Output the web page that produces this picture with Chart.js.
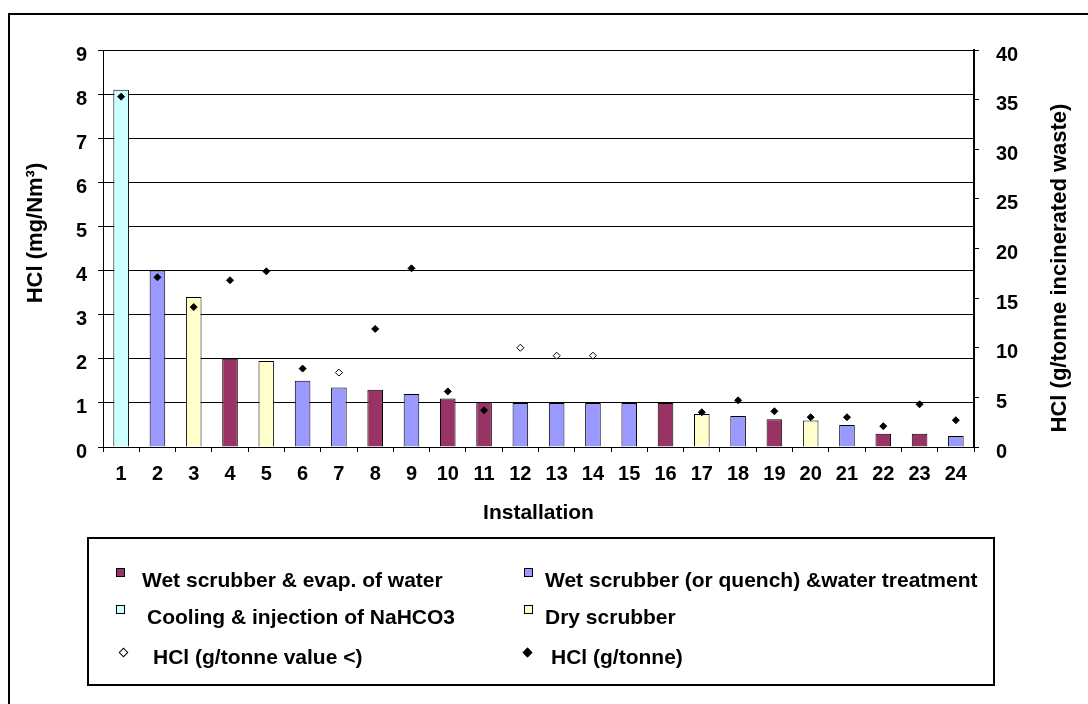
<!DOCTYPE html>
<html>
<head>
<meta charset="utf-8">
<title>HCl emissions by installation</title>
<script src="https://cdn.jsdelivr.net/npm/chart.js@4.4.0/dist/chart.umd.min.js"></script>
<style>
    html, body {
        margin: 0;
        padding: 0;
        width: 1088px;
        height: 704px;
        overflow: hidden;
        background: #fff;
        font-family: "Liberation Sans", Arial, sans-serif;
    }
    #frame {
        position: absolute;
        left: 8px;
        top: 13px;
        width: 1110px;
        height: 720px;
        border: 2px solid #000;
        box-sizing: border-box;
    }
    #chartWrap {
        position: absolute;
        left: 0;
        top: 0;
        width: 1088px;
        height: 704px;
    }
    .legend-box {
        position: absolute;
        left: 87px;
        top: 537px;
        width: 908px;
        height: 149px;
        border: 2px solid #000;
        box-sizing: border-box;
    }
    .legend-text {
        position: absolute;
        font-size: 21px;
        line-height: 24px;
        font-weight: bold;
        color: #000;
        white-space: pre;
    }
    .legend-swatch {
        position: absolute;
        width: 9px;
        height: 9px;
        border: 1px solid #000;
        box-sizing: border-box;
    }
    .legend-diamond {
        position: absolute;
        width: 5px;
        height: 5px;
        border: 1px solid #000;
        transform: rotate(45deg);
    }
</style>
</head>
<body>
<div id="frame"></div>
<div id="chartWrap"><canvas id="hclChart"></canvas></div>
<div class="legend-box"></div>
<div id="legendItems"></div>

<script>
// Chart values
const installations = ['1', '2', '3', '4', '5', '6', '7', '8', '9', '10', '11', '12',
    '13', '14', '15', '16', '17', '18', '19', '20', '21', '22', '23', '24'];

// HCl concentration (mg/Nm3), left axis
const hclConc = [8.1, 4.0, 3.4, 2.0, 1.95, 1.5, 1.35, 1.3, 1.2, 1.1, 1.02, 1.0,
    1.0, 1.0, 1.0, 1.0, 0.75, 0.7, 0.63, 0.6, 0.5, 0.3, 0.3, 0.25];

// flue gas treatment type of each installation
const treatment = ['cool', 'wetq', 'dry', 'wete', 'dry', 'wetq', 'wetq', 'wete', 'wetq', 'wete', 'wete', 'wetq',
    'wetq', 'wetq', 'wetq', 'wete', 'dry', 'wetq', 'wete', 'dry', 'wetq', 'wete', 'wete', 'wetq'];

// HCl (g/tonne incinerated waste), right axis
const hclPerTonne = [35.3, 17.1, 14.1, 16.8, 17.7, 7.9, null, 11.9, 18.0, 5.6, 3.7, null,
    null, null, null, null, 3.5, 4.7, 3.6, 3.0, 3.0, 2.1, 4.3, 2.7];
const hclPerTonneBelow = [null, null, null, null, null, null, 7.5, null, null, null, null, 10.0,
    9.2, 9.2, null, null, null, null, null, null, null, null, null, null];

// Axis ticks
const leftTicks = { min: 0, max: 9, step: 1 };
const rightTicks = { min: 0, max: 40, step: 5 };

document.addEventListener('DOMContentLoaded', function() {
    const FONT = '"Liberation Sans", Arial, sans-serif';

    const treatmentColors = {
        wete: '#993366',
        wetq: '#9999FF',
        cool: '#CCFFFF',
        dry: '#FFFFCC'
    };

    // Rotated y axis titles (right one reads bottom to top like the left one)
    const axisTitlePlugin = {
        id: 'axisTitles',
        afterDraw(chart) {
            const ctx = chart.ctx;
            drawVerticalText(ctx, 'HCl (mg/Nm³)', 36, 233);
            drawVerticalText(ctx, 'HCl (g/tonne incinerated waste)', 1060, 268);
        }
    };

    function drawVerticalText(ctx, text, x, y) {
        ctx.save();
        ctx.translate(x, y);
        ctx.rotate(-Math.PI / 2);
        ctx.font = 'bold 22px ' + FONT;
        ctx.fillStyle = '#000';
        ctx.textAlign = 'center';
        ctx.textBaseline = 'middle';
        ctx.fillText(text, 0, 0);
        ctx.restore();
    }

    const tickFont = { family: FONT, size: 20, weight: 'bold' };

    const ctx = document.getElementById('hclChart').getContext('2d');
    new Chart(ctx, {
        data: {
            labels: installations,
            datasets: [
                {
                    type: 'line',
                    label: 'HCl (g/tonne value <)',
                    data: hclPerTonneBelow,
                    yAxisID: 'y2',
                    showLine: false,
                    pointStyle: 'rectRot',
                    pointRadius: 3.5,
                    pointBackgroundColor: '#fff',
                    pointBorderColor: '#000',
                    pointBorderWidth: 1,
                    order: 0
                },
                {
                    type: 'line',
                    label: 'HCl (g/tonne)',
                    data: hclPerTonne,
                    yAxisID: 'y2',
                    showLine: false,
                    pointStyle: 'rectRot',
                    pointRadius: 3.5,
                    pointBackgroundColor: '#000',
                    pointBorderColor: '#000',
                    pointBorderWidth: 1,
                    order: 1
                },
                {
                    type: 'bar',
                    label: 'HCl (mg/Nm3)',
                    data: hclConc,
                    yAxisID: 'y',
                    backgroundColor: treatment.map(t => treatmentColors[t]),
                    borderColor: '#000',
                    borderWidth: 1,
                    barPercentage: 0.43,
                    categoryPercentage: 1,
                    order: 2
                }
            ]
        },
        options: {
            responsive: true,
            maintainAspectRatio: false,
            animation: false,
            layout: { padding: { top: 50, left: 0, right: 0, bottom: 177 } },
            plugins: {
                legend: { display: false },
                tooltip: { enabled: false }
            },
            scales: {
                x: {
                    offset: true,
                    grid: { offset: true, drawOnChartArea: false, tickLength: 5, color: '#000' },
                    border: { color: '#000', width: 1 },
                    ticks: { color: '#000', font: tickFont, padding: 10, maxRotation: 0, autoSkip: false },
                    title: {
                        display: true,
                        text: 'Installation',
                        color: '#000',
                        font: { family: FONT, size: 21, weight: 'bold' },
                        padding: { top: 0, bottom: 1 }
                    },
                    afterFit: function(scale) { scale.height = 80; }
                },
                y: {
                    position: 'left',
                    min: leftTicks.min,
                    max: leftTicks.max,
                    ticks: { stepSize: leftTicks.step, color: '#000', font: tickFont, padding: 11, labelOffset: 5 },
                    grid: { color: '#000', tickLength: 5 },
                    border: { color: '#000', width: 1 },
                    afterFit: function(scale) { scale.width = 103; }
                },
                y2: {
                    position: 'right',
                    min: rightTicks.min,
                    max: rightTicks.max,
                    ticks: { stepSize: rightTicks.step, color: '#000', font: tickFont, padding: 17, labelOffset: 5 },
                    grid: { drawOnChartArea: false, color: '#000', tickLength: 5 },
                    border: { color: '#000', width: 2 },
                    afterFit: function(scale) { scale.width = 114; }
                }
            }
        },
        plugins: [axisTitlePlugin]
    });

    // Custom legend in a boxed two-column layout
    const legendEntries = [
        { kind: 'swatch', color: treatmentColors.wete, text: 'Wet scrubber & evap. of water', mx: 116, my: 568, tx: 142, ty: 568 },
        { kind: 'swatch', color: treatmentColors.wetq, text: 'Wet scrubber (or quench) &water treatment', mx: 524, my: 568, tx: 545, ty: 568 },
        { kind: 'swatch', color: treatmentColors.cool, text: 'Cooling & injection of NaHCO3', mx: 116, my: 605, tx: 147, ty: 605 },
        { kind: 'swatch', color: treatmentColors.dry, text: 'Dry scrubber', mx: 524, my: 605, tx: 545, ty: 605 },
        { kind: 'diamond', color: '#fff', text: 'HCl (g/tonne value <)', mx: 120, my: 649, tx: 153, ty: 645 },
        { kind: 'diamond', color: '#000', text: 'HCl (g/tonne)', mx: 524, my: 649, tx: 551, ty: 645 }
    ];
    createLegend(legendEntries);

    function createLegend(entries) {
        const container = document.getElementById('legendItems');
        container.innerHTML = '';

        entries.forEach(entry => {
            const marker = document.createElement('span');
            marker.className = entry.kind === 'swatch' ? 'legend-swatch' : 'legend-diamond';
            marker.style.backgroundColor = entry.color;
            marker.style.left = entry.mx + 'px';
            marker.style.top = entry.my + 'px';

            const label = document.createElement('span');
            label.className = 'legend-text';
            label.textContent = entry.text;
            label.style.left = entry.tx + 'px';
            label.style.top = entry.ty + 'px';

            container.appendChild(marker);
            container.appendChild(label);
        });
    }
});
</script>
</body>
</html>
